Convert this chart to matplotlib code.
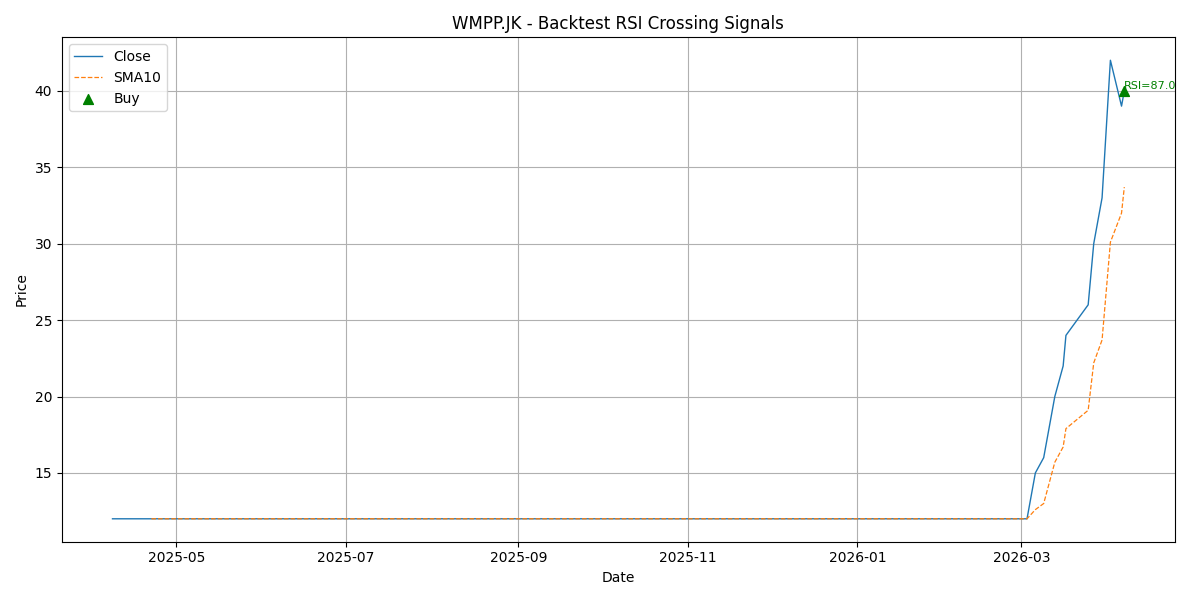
import matplotlib
matplotlib.use("Agg")
import matplotlib.pyplot as plt
import pandas as pd

# Close price (sparse points; flat segments are straight lines anyway)
close_dates = ["2025-04-08", "2026-03-03", "2026-03-06", "2026-03-09", "2026-03-13",
               "2026-03-16", "2026-03-17", "2026-03-25", "2026-03-27", "2026-03-30",
               "2026-04-02", "2026-04-06", "2026-04-07"]
close_vals = [12, 12, 15, 16, 20, 22, 24, 26, 30, 33, 42, 39, 40]

sma_dates = ["2025-04-22", "2026-03-03", "2026-03-06", "2026-03-09", "2026-03-13",
             "2026-03-16", "2026-03-17", "2026-03-25", "2026-03-27", "2026-03-30",
             "2026-04-02", "2026-04-06", "2026-04-07"]
sma_vals = [12, 12, 12.6, 13.0, 15.7, 16.7, 17.9, 19.1, 22.2, 23.7, 30.1, 32.0, 33.7]

buy_dates = ["2026-04-07"]
buy_prices = [40]
buy_rsi = [87.0]

close_x = pd.to_datetime(close_dates)
sma_x = pd.to_datetime(sma_dates)
buy_x = pd.to_datetime(buy_dates)

fig, ax = plt.subplots(figsize=(12, 6), dpi=100)
ax.plot(close_x, close_vals, label="Close", linewidth=1)
ax.plot(sma_x, sma_vals, "--", label="SMA10", linewidth=0.9)
ax.scatter(buy_x, buy_prices, marker="^", color="green", s=50, label="Buy", zorder=3)
for d, p, r in zip(buy_x, buy_prices, buy_rsi):
    ax.text(d, p, f"RSI={r:.1f}", color="green", fontsize=8, ha="left", va="bottom")

ax.set_title("WMPP.JK - Backtest RSI Crossing Signals")
ax.set_xlabel("Date")
ax.set_ylabel("Price")
ax.grid(True)
ax.legend(loc="upper left")
plt.tight_layout()
plt.savefig("out.png")
